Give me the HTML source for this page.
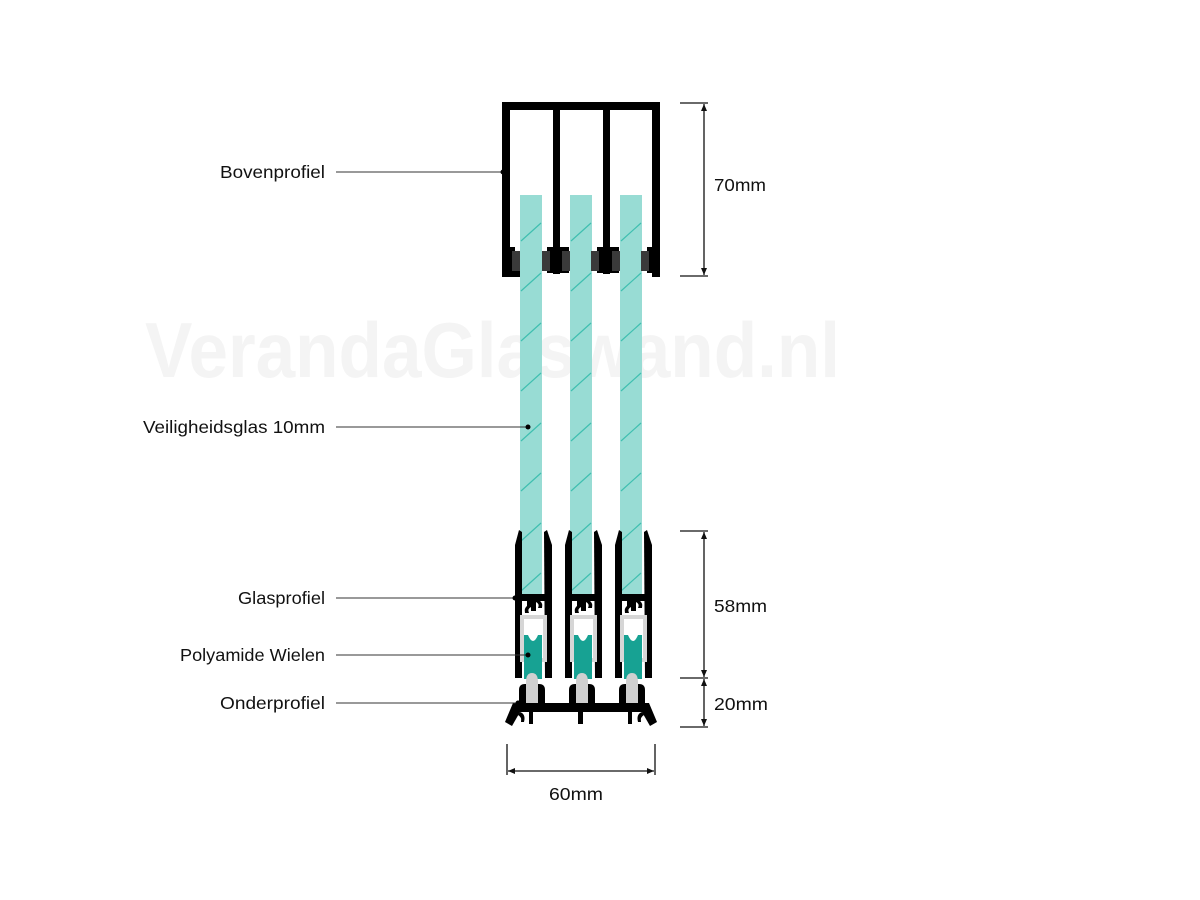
<!DOCTYPE html>
<html><head><meta charset="utf-8"><style>
html,body{margin:0;padding:0;background:#fff;width:1200px;height:900px;overflow:hidden}
svg{display:block}
text{font-family:"Liberation Sans",sans-serif;fill:#111}
</style></head><body>
<svg width="1200" height="900" viewBox="0 0 1200 900" xmlns="http://www.w3.org/2000/svg">
<defs>
<g id="pane">
<rect x="520" y="195" width="22" height="400" fill="#98dcd4"/>
<g stroke="#3fbfb0" stroke-width="1.2">
<line x1="521" y1="241" x2="541" y2="223"/><line x1="521" y1="291" x2="541" y2="273"/>
<line x1="521" y1="341" x2="541" y2="323"/><line x1="521" y1="391" x2="541" y2="373"/>
<line x1="521" y1="441" x2="541" y2="423"/><line x1="521" y1="491" x2="541" y2="473"/>
<line x1="521" y1="541" x2="541" y2="523"/><line x1="521" y1="591" x2="541" y2="573"/>
</g>
</g>
<g id="unit">
<path d="M515,545 L519,530 L522,532 L522,678 L515,678 Z" fill="#000"/>
<path d="M544,532 L547,530 L552,545 L552,678 L545,678 Z" fill="#000"/>
<rect x="515" y="594" width="37" height="7" fill="#000"/>
<path d="M527,601 h4 v6 q-4,2 -2,6 h-4 q-1,-5 2,-7 Z" fill="#000"/>
<path d="M536,601 h4 q3,2 2,7 h-4 q2,-4 -2,-6 Z" fill="#000"/>
<rect x="531" y="601" width="5" height="10" fill="#000"/>
<rect x="522" y="617" width="23" height="43" fill="none" stroke="#d6d6d6" stroke-width="4"/>
<path d="M524,635 h4 q5,12 10,0 h4 v44 h-18 Z" fill="#17a293"/>
<path d="M526,682 q0,-9 6,-9 q6,0 6,9 v28 h-12 Z" fill="#d0d0d0"/>
<path d="M519,690 q0,-6 6,-6 h1 v22 h12 v-22 h1 q6,0 6,6 v17 h-26 Z" fill="#000"/>
</g>
</defs>

<text x="145" y="377" font-size="78" font-weight="bold" style="fill:#f4f4f4" textLength="695" lengthAdjust="spacingAndGlyphs">VerandaGlaswand.nl</text>

<use href="#pane"/>
<use href="#pane" x="50"/>
<use href="#pane" x="100"/>

<g fill="#000">
<rect x="502" y="102" width="158" height="8"/>
<rect x="502" y="102" width="8" height="175"/>
<rect x="652" y="102" width="8" height="175"/>
<rect x="553" y="102" width="7" height="172"/>
<rect x="603" y="102" width="7" height="172"/>
<rect x="510" y="247" width="5" height="26"/>
<rect x="547" y="247" width="22" height="26"/>
<rect x="597" y="247" width="22" height="26"/>
<rect x="647" y="247" width="5" height="26"/>
<rect x="502" y="270" width="18" height="7"/>
</g>
<g fill="#3a3a3a">
<rect x="512" y="251" width="8" height="20"/><rect x="542" y="251" width="8" height="20"/>
<rect x="562" y="251" width="8" height="20"/><rect x="591" y="251" width="8" height="20"/>
<rect x="612" y="251" width="8" height="20"/><rect x="641" y="251" width="8" height="20"/>
</g>

<use href="#unit"/>
<use href="#unit" x="50"/>
<use href="#unit" x="100"/>
<g fill="#000">
<rect x="513" y="703" width="136" height="9"/>
<path d="M513,703 L505,722 L512,726 L520,712 Z"/>
<path d="M649,703 L657,722 L650,726 L642,712 Z"/>
<rect x="529" y="710" width="4" height="14"/>
<rect x="578" y="710" width="5" height="14"/>
<rect x="628" y="710" width="4" height="14"/>
<path d="M520,712 q6,2 4,10 h-3 q1,-5 -3,-7 Z"/>
<path d="M642,712 q-6,2 -4,10 h3 q-1,-5 3,-7 Z"/>
</g>

<g stroke="#333" stroke-width="1">
<line x1="336" y1="172" x2="503" y2="172"/>
<line x1="336" y1="427" x2="528" y2="427"/>
<line x1="336" y1="598" x2="515" y2="598"/>
<line x1="336" y1="655" x2="528" y2="655"/>
<line x1="336" y1="703" x2="518" y2="703"/>
</g>
<g fill="#000">
<circle cx="503" cy="172" r="2.5"/><circle cx="528" cy="427" r="2.5"/>
<circle cx="515" cy="598" r="2.5"/><circle cx="528" cy="655" r="2.5"/>
<circle cx="518" cy="703" r="2.5"/>
</g>
<g font-size="17.5">
<text x="220" y="178" textLength="105" lengthAdjust="spacingAndGlyphs">Bovenprofiel</text>
<text x="143" y="433" textLength="182" lengthAdjust="spacingAndGlyphs">Veiligheidsglas 10mm</text>
<text x="238" y="604" textLength="87" lengthAdjust="spacingAndGlyphs">Glasprofiel</text>
<text x="180" y="661" textLength="145" lengthAdjust="spacingAndGlyphs">Polyamide Wielen</text>
<text x="220" y="709" textLength="105" lengthAdjust="spacingAndGlyphs">Onderprofiel</text>
</g>

<g stroke="#111" stroke-width="1.3" fill="none">
<line x1="680" y1="103" x2="708" y2="103"/><line x1="680" y1="276" x2="708" y2="276"/>
<line x1="704" y1="104" x2="704" y2="275"/>
<line x1="680" y1="531" x2="708" y2="531"/><line x1="680" y1="678" x2="708" y2="678"/>
<line x1="704" y1="532" x2="704" y2="677"/>
<line x1="680" y1="727" x2="708" y2="727"/>
<line x1="704" y1="679" x2="704" y2="726"/>
<line x1="507" y1="744" x2="507" y2="775"/><line x1="655" y1="744" x2="655" y2="775"/>
<line x1="508" y1="771" x2="654" y2="771"/>
</g>
<g fill="#111">
<path d="M704,104 l-3,7 h6 Z"/><path d="M704,275 l-3,-7 h6 Z"/>
<path d="M704,532 l-3,7 h6 Z"/><path d="M704,677 l-3,-7 h6 Z"/>
<path d="M704,679 l-3,7 h6 Z"/><path d="M704,726 l-3,-7 h6 Z"/>
<path d="M508,771 l7,-3 v6 Z"/><path d="M654,771 l-7,-3 v6 Z"/>
</g>
<g font-size="17.5">
<text x="714" y="191" textLength="52" lengthAdjust="spacingAndGlyphs">70mm</text>
<text x="714" y="612" textLength="53" lengthAdjust="spacingAndGlyphs">58mm</text>
<text x="714" y="710" textLength="54" lengthAdjust="spacingAndGlyphs">20mm</text>
<text x="549" y="800" textLength="54" lengthAdjust="spacingAndGlyphs">60mm</text>
</g>
</svg>
</body></html>
